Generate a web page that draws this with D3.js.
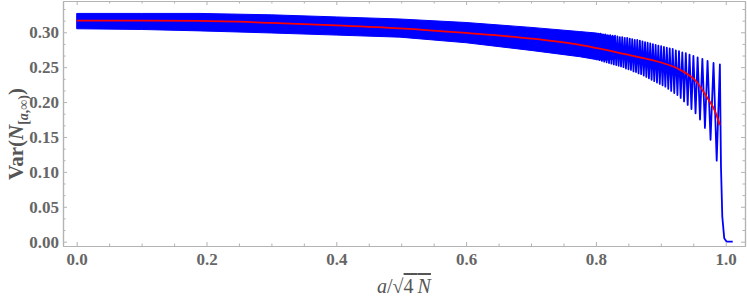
<!DOCTYPE html>
<html>
<head>
<meta charset="utf-8">
<script src="https://cdn.jsdelivr.net/npm/d3@7"></script>
<style>
  body { margin: 0; background: #fff; }
  svg { display: block; }
</style>
</head>
<body>
<script>
// dense part of the blue curve: envelope of the fast oscillation
var bandX     = [0, 0.1, 0.19, 0.3, 0.4, 0.498, 0.6, 0.7, 0.775, 0.8, 0.815, 0.83];
var bandUpper = [0.327, 0.327, 0.327, 0.325, 0.322, 0.319, 0.314, 0.307, 0.301, 0.299, 0.296, 0.293];
var bandLower = [0.305, 0.304, 0.302, 0.299, 0.296, 0.293, 0.285, 0.274, 0.265, 0.261, 0.260, 0.262];

// resolved oscillations near the edge: peaks and troughs
var peakX = [0.7998, 0.8036, 0.8073, 0.8110, 0.8146, 0.8183, 0.8220, 0.8257, 0.8294, 0.8331,
             0.8368, 0.8405, 0.8444, 0.8482, 0.8521, 0.8559, 0.8598, 0.8637, 0.8677, 0.8717,
             0.8757, 0.8797, 0.8837, 0.8878, 0.8920, 0.8962, 0.9005, 0.9048, 0.9092, 0.9137,
             0.9183, 0.9231, 0.9280, 0.9331, 0.9385, 0.9442, 0.9502, 0.9567, 0.9640, 0.9720,
             0.9812, 0.9910];
var peakY = [0.299, 0.298, 0.298, 0.297, 0.297, 0.296, 0.296, 0.295, 0.295, 0.294,
             0.293, 0.293, 0.292, 0.292, 0.291, 0.290, 0.289, 0.289, 0.288, 0.287,
             0.286, 0.285, 0.284, 0.283, 0.282, 0.281, 0.280, 0.279, 0.278, 0.277,
             0.276, 0.274, 0.273, 0.271, 0.270, 0.268, 0.266, 0.264, 0.262, 0.259,
             0.256, 0.254];
var troughX = [0.8017, 0.8055, 0.8092, 0.8128, 0.8165, 0.8202, 0.8239, 0.8276, 0.8313, 0.8350,
               0.8387, 0.8425, 0.8463, 0.8502, 0.8540, 0.8579, 0.8618, 0.8657, 0.8697, 0.8737,
               0.8777, 0.8817, 0.8858, 0.8899, 0.8941, 0.8984, 0.9027, 0.9070, 0.9115, 0.9160,
               0.9207, 0.9256, 0.9306, 0.9358, 0.9414, 0.9472, 0.9535, 0.9604, 0.9680, 0.9766,
               0.9861];
var troughY = [0.261, 0.260, 0.259, 0.258, 0.257, 0.256, 0.255, 0.254, 0.253, 0.252,
               0.251, 0.250, 0.248, 0.247, 0.246, 0.244, 0.243, 0.241, 0.240, 0.238,
               0.236, 0.234, 0.232, 0.230, 0.228, 0.226, 0.224, 0.222, 0.219, 0.216,
               0.213, 0.210, 0.206, 0.201, 0.196, 0.190, 0.184, 0.175, 0.163, 0.146,
               0.116];

// final drop to zero
var tailX = [0.9927, 0.9947, 0.9977, 1.0015, 1.0108];
var tailY = [0.107, 0.036, 0.005, 0.0, 0.0];

// red smooth curve
var redX = [0, 0.1, 0.19, 0.3, 0.4, 0.498, 0.6, 0.7, 0.775, 0.853, 0.903, 0.930, 0.956, 0.971, 0.984, 0.991];
var redY = [0.3166, 0.3166, 0.3163, 0.3135, 0.310, 0.3057, 0.299, 0.291, 0.282, 0.267, 0.256, 0.246, 0.228, 0.207, 0.186, 0.167];

var xTicks = [0, 0.2, 0.4, 0.6, 0.8, 1.0];
var yTicks = [0, 0.05, 0.10, 0.15, 0.20, 0.25, 0.30];

var margin = { top: 1, right: 2, bottom: 54, left: 63 },
    width = 747 - margin.left - margin.right,
    height = 300 - margin.top - margin.bottom;

var svg = d3.select("body").append("svg")
    .attr("width", 747)
    .attr("height", 300);

var g = svg.append("g")
    .attr("transform", "translate(" + margin.left + "," + margin.top + ")");

var x = d3.scaleLinear().domain([-0.0211, 1.0297]).range([0, width]);
var y = d3.scaleLinear().domain([-0.0062, 0.3448]).range([height, 0]);

// blue band
var band = bandX.map(function(v, i) { return { x: v, hi: bandUpper[i], lo: bandLower[i] }; });
g.append("path")
    .datum(band)
    .attr("fill", "#0000ff")
    .attr("stroke", "#0000ff")
    .attr("stroke-width", 1)
    .attr("d", d3.area()
        .x(function(d) { return x(d.x); })
        .y0(function(d) { return y(d.lo); })
        .y1(function(d) { return y(d.hi); }));

// zigzag of peaks / troughs, then the tail
var zig = [];
peakX.forEach(function(v, i) {
    zig.push([v, peakY[i]]);
    if (i < troughX.length) zig.push([troughX[i], troughY[i]]);
});
tailX.forEach(function(v, i) { zig.push([v, tailY[i]]); });

var line = d3.line()
    .x(function(d) { return x(d[0]); })
    .y(function(d) { return y(d[1]); });

g.append("path")
    .datum(zig)
    .attr("fill", "none")
    .attr("stroke", "#0000ff")
    .attr("stroke-width", 1.8)
    .attr("stroke-linejoin", "round")
    .attr("d", line);

// red curve
g.append("path")
    .datum(redX.map(function(v, i) { return [v, redY[i]]; }))
    .attr("fill", "none")
    .attr("stroke", "#ff0000")
    .attr("stroke-width", 1.8)
    .attr("d", line.curve(d3.curveMonotoneX));

// frame and ticks
var axisColor = "#b3b3b3";
var xMinor = d3.range(0, 1.0001, 0.05).filter(function(v) { return Math.abs(v * 5 - Math.round(v * 5)) > 1e-6; });
var yMinor = d3.range(0, 0.344, 0.05 / 3).filter(function(v) { return Math.abs(v * 20 - Math.round(v * 20)) > 1e-6; });

function style(sel) {
    sel.attr("font-family", "Liberation Serif").attr("font-size", 17);
    sel.select(".domain").attr("stroke", axisColor).attr("stroke-width", 1.2);
    sel.selectAll(".tick line").attr("stroke", axisColor);
    sel.selectAll(".tick text")
        .attr("font-family", "Liberation Serif")
        .attr("font-weight", "bold")
        .attr("font-size", 17)
        .attr("fill", "#666");
}

g.append("g").attr("transform", "translate(0," + height + ")")
    .call(d3.axisBottom(x).tickValues(xTicks).tickSizeInner(-4).tickSizeOuter(0).tickPadding(7)
        .tickFormat(d3.format(".1f")))
    .call(style);
g.append("g").attr("transform", "translate(0," + height + ")")
    .call(d3.axisBottom(x).tickValues(xMinor).tickSizeInner(-2.5).tickSizeOuter(0).tickFormat(""))
    .call(style);
g.append("g")
    .call(d3.axisTop(x).tickValues(xTicks).tickSizeInner(-4).tickSizeOuter(0).tickFormat(""))
    .call(style);
g.append("g")
    .call(d3.axisTop(x).tickValues(xMinor).tickSizeInner(-2.5).tickSizeOuter(0).tickFormat(""))
    .call(style);

g.append("g")
    .call(d3.axisLeft(y).tickValues(yTicks).tickSizeInner(-4).tickSizeOuter(0).tickPadding(4)
        .tickFormat(d3.format(".2f")))
    .call(style);
g.append("g")
    .call(d3.axisLeft(y).tickValues(yMinor).tickSizeInner(-2.5).tickSizeOuter(0).tickFormat(""))
    .call(style);
g.append("g").attr("transform", "translate(" + width + ",0)")
    .call(d3.axisRight(y).tickValues(yTicks).tickSizeInner(-4).tickSizeOuter(0).tickFormat(""))
    .call(style);
g.append("g").attr("transform", "translate(" + width + ",0)")
    .call(d3.axisRight(y).tickValues(yMinor).tickSizeInner(-2.5).tickSizeOuter(0).tickFormat(""))
    .call(style);

// x axis label: a/sqrt(4 N)
var xl = svg.append("text")
    .attr("x", margin.left + width / 2)
    .attr("y", 293)
    .attr("text-anchor", "middle")
    .attr("font-family", "Liberation Serif, serif")
    .attr("font-size", 20)
    .attr("fill", "#555");
xl.append("tspan").attr("font-style", "italic").text("a");
xl.append("tspan").text("/\u221A");
xl.append("tspan").style("text-decoration", "overline").text("4\u2009");
xl.append("tspan").style("text-decoration", "overline").attr("font-style", "italic").text("N");

// y axis label: Var(N_[a,inf))
var yl = svg.append("text")
    .attr("transform", "translate(23," + 134 + ") rotate(-90)")
    .attr("text-anchor", "middle")
    .attr("font-family", "Liberation Serif, serif")
    .attr("font-weight", "bold")
    .attr("font-size", 21)
    .attr("fill", "#555");
yl.append("tspan").text("Var(");
yl.append("tspan").attr("font-style", "italic").text("N");
yl.append("tspan").attr("font-size", 14).attr("dy", 5).text("[");
yl.append("tspan").attr("font-size", 14).attr("font-style", "italic").text("a");
yl.append("tspan").attr("font-size", 14).text(",\u221E)");
yl.append("tspan").attr("dy", -5).text(")");
</script>
</body>
</html>
